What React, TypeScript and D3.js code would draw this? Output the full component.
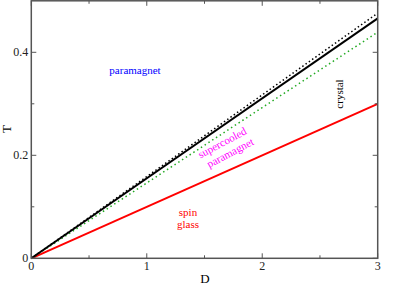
import React from "react";
import * as d3 from "d3";

const dValues = [0, 3];
const spinGlassT = [0, 0.3];
const crystalT = [0, 0.466];
const crystalDottedT = [0, 0.476];
const supercooledT = [0, 0.439];
const xMajorTicks = [0, 1, 2, 3];
const xMinorTicks = [0.5, 1.5, 2.5];
const yMajorTicks = [0, 0.2, 0.4];
const yMinorTicks = [0.1, 0.3];

const W = 407, H = 288;
const left = 31.3, right = 377.7, top = 0.8, bottom = 258.3;

export default function App() {
  const x = d3.scaleLinear().domain([0, 3]).range([left, right]);
  const y = d3.scaleLinear().domain([0, 0.5]).range([bottom, top]);
  const line = (ys: number[]) =>
    d3.line<number>().x((_, i) => x(dValues[i])).y((v) => y(v))(ys) || "";
  const font = "'Liberation Serif', 'Times New Roman', serif";
  const axisColor = "#555";
  const major = 5, minor = 3;
  return (
    <svg width={W} height={H} style={{ position: "absolute", left: 0, top: 0 }}>
      <rect x={0} y={0} width={W} height={H} fill="white" />
      <path d={line(spinGlassT)} stroke="#ff0000" strokeWidth={2} fill="none" />
      <path d={line(supercooledT)} stroke="#22aa22" strokeWidth={1.5} strokeDasharray="1.5,3" fill="none" />
      <path d={line(crystalDottedT)} stroke="#000" strokeWidth={1.5} strokeDasharray="1.5,2.5" fill="none" />
      <path d={line(crystalT)} stroke="#000" strokeWidth={2} fill="none" />
      <rect x={left} y={top} width={right - left} height={bottom - top} fill="none" stroke={axisColor} strokeWidth={1.5} />
      {xMajorTicks.map((t) => (
        <g key={"xm" + t}>
          <line x1={x(t)} x2={x(t)} y1={bottom} y2={bottom - major} stroke={axisColor} strokeWidth={1} />
          <line x1={x(t)} x2={x(t)} y1={top} y2={top + major} stroke={axisColor} strokeWidth={1} />
          <text x={x(t)} y={bottom + 12} textAnchor="middle" fontFamily={font} fontSize={12} fill="#222">{t}</text>
        </g>
      ))}
      {xMinorTicks.map((t) => (
        <g key={"xn" + t}>
          <line x1={x(t)} x2={x(t)} y1={bottom} y2={bottom - minor} stroke={axisColor} strokeWidth={1} />
          <line x1={x(t)} x2={x(t)} y1={top} y2={top + minor} stroke={axisColor} strokeWidth={1} />
        </g>
      ))}
      {yMajorTicks.map((t) => (
        <g key={"ym" + t}>
          <line x1={left} x2={left + major} y1={y(t)} y2={y(t)} stroke={axisColor} strokeWidth={1} />
          <line x1={right} x2={right - major} y1={y(t)} y2={y(t)} stroke={axisColor} strokeWidth={1} />
          <text x={left - 3} y={y(t) + 4} textAnchor="end" fontFamily={font} fontSize={12} fill="#222">{t}</text>
        </g>
      ))}
      {yMinorTicks.map((t) => (
        <g key={"yn" + t}>
          <line x1={left} x2={left + minor} y1={y(t)} y2={y(t)} stroke={axisColor} strokeWidth={1} />
          <line x1={right} x2={right - minor} y1={y(t)} y2={y(t)} stroke={axisColor} strokeWidth={1} />
        </g>
      ))}
      <text x={205} y={283} textAnchor="middle" fontFamily={font} fontSize={13} fill="#000">D</text>
      <text transform="translate(11,129) rotate(-90)" textAnchor="middle" fontFamily={font} fontSize={13} fill="#000">T</text>
      <text x={135} y={74} textAnchor="middle" fontFamily={font} fontSize={11} fill="#0000ff">paramagnet</text>
      <text transform="translate(343,94) rotate(-90)" textAnchor="middle" fontFamily={font} fontSize={11} fill="#000">crystal</text>
      <text transform="translate(224,146) rotate(-28)" textAnchor="middle" fontFamily={font} fontSize={11} fill="#ff00ff">supercooled</text>
      <text transform="translate(232,156) rotate(-28)" textAnchor="middle" fontFamily={font} fontSize={11} fill="#ff00ff">paramagnet</text>
      <text x={188} y={216} textAnchor="middle" fontFamily={font} fontSize={11} fill="#ff0000">spin</text>
      <text x={188} y={228} textAnchor="middle" fontFamily={font} fontSize={11} fill="#ff0000">glass</text>
    </svg>
  );
}
